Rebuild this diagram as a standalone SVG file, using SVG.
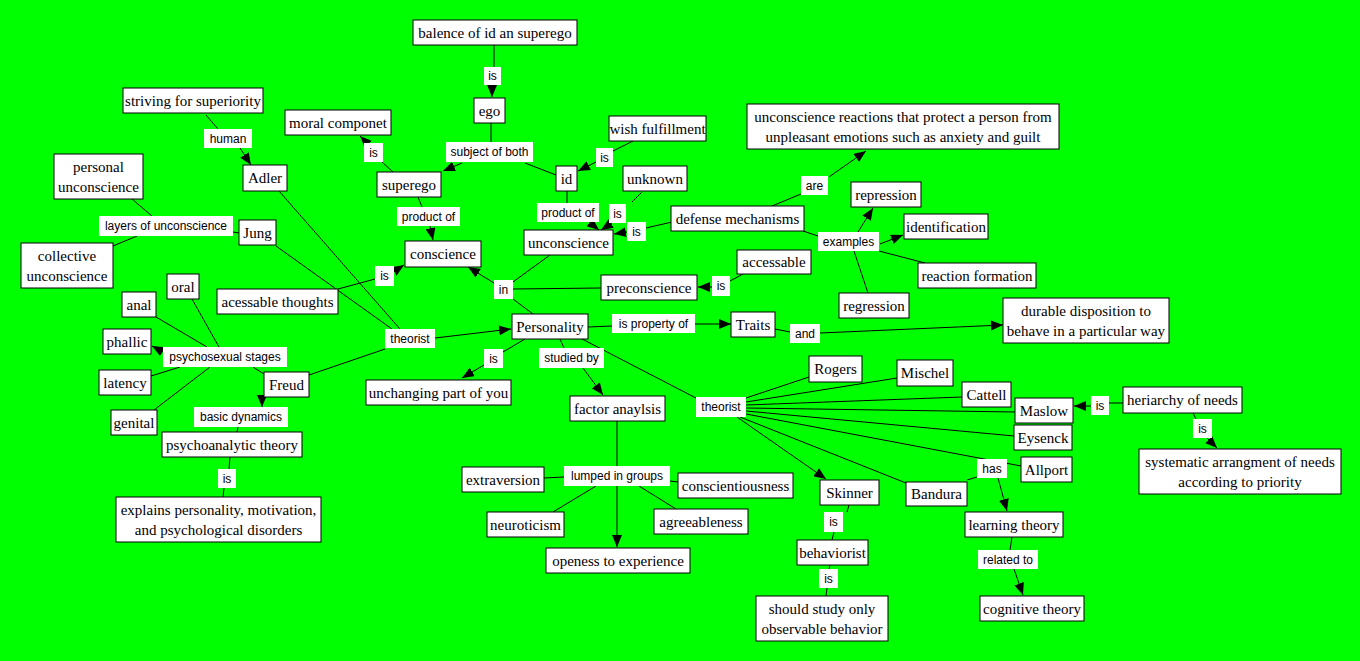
<svg xmlns="http://www.w3.org/2000/svg" width="1360" height="661" viewBox="0 0 1360 661">
<defs>
<marker id="ah" markerUnits="userSpaceOnUse" markerWidth="12" markerHeight="10" refX="12" refY="5" orient="auto"><path d="M0,0 L12,5 L0,10 z" fill="#000"/></marker>
<style>
.n rect{fill:#fff;stroke:#000;stroke-width:1}
.n text{font-family:"Liberation Serif","Times New Roman",serif;font-size:15px;text-anchor:middle;fill:#000}
.l rect{fill:#fff;stroke:none}
.l text{font-family:"Liberation Sans",Arial,sans-serif;font-size:12px;text-anchor:middle;fill:#000}
#connectors line{stroke:#000;stroke-width:1;fill:none}
#connectors line.a{marker-end:url(#ah)}
</style>
</defs>
<rect x="0" y="0" width="1360" height="661" fill="#00ff00"/>
<g id="connectors">
<line x1="494" y1="45" x2="494" y2="67"/>
<line class="a" x1="492" y1="85" x2="492" y2="97"/>
<line x1="491" y1="123" x2="491" y2="142"/>
<line class="a" x1="462" y1="163" x2="443" y2="171"/>
<line x1="525" y1="163" x2="556" y2="175"/>
<line x1="393" y1="172" x2="382" y2="162"/>
<line class="a" x1="368" y1="144" x2="360" y2="136"/>
<line x1="418" y1="197" x2="422" y2="207"/>
<line class="a" x1="430" y1="226" x2="433" y2="240"/>
<line x1="633" y1="141" x2="613" y2="151"/>
<line class="a" x1="596" y1="162" x2="578" y2="171"/>
<line x1="567" y1="191" x2="567" y2="203"/>
<line class="a" x1="588" y1="221" x2="599" y2="230"/>
<line x1="632" y1="202" x2="642" y2="192"/>
<line class="a" x1="612" y1="223" x2="601" y2="230"/>
<line x1="672" y1="222" x2="646" y2="228"/>
<line class="a" x1="627" y1="232" x2="614" y2="234"/>
<line x1="772" y1="206" x2="801" y2="194"/>
<line class="a" x1="829" y1="177" x2="866" y2="151"/>
<line x1="803" y1="231" x2="818" y2="236"/>
<line class="a" x1="858" y1="232" x2="873" y2="208"/>
<line class="a" x1="880" y1="244" x2="903" y2="235"/>
<line x1="879" y1="251" x2="925" y2="263"/>
<line x1="854" y1="251" x2="868" y2="293"/>
<line x1="743" y1="274" x2="730" y2="281"/>
<line class="a" x1="712" y1="287" x2="698" y2="287"/>
<line x1="533" y1="314" x2="513" y2="299"/>
<line class="a" x1="494" y1="283" x2="468" y2="267"/>
<line x1="513" y1="282" x2="550" y2="255"/>
<line x1="513" y1="289" x2="601" y2="288"/>
<line x1="588" y1="327" x2="612" y2="326"/>
<line class="a" x1="695" y1="324" x2="731" y2="324"/>
<line x1="775" y1="329" x2="790" y2="332"/>
<line class="a" x1="820" y1="333" x2="1003" y2="325"/>
<line x1="525" y1="339" x2="503" y2="352"/>
<line class="a" x1="484" y1="365" x2="462" y2="378"/>
<line x1="560" y1="339" x2="564" y2="348"/>
<line class="a" x1="583" y1="368" x2="603" y2="395"/>
<line x1="582" y1="339" x2="696" y2="398"/>
<line x1="746" y1="398" x2="809" y2="377"/>
<line x1="746" y1="402" x2="897" y2="378"/>
<line x1="746" y1="405" x2="962" y2="397"/>
<line x1="746" y1="408" x2="1015" y2="412"/>
<line x1="746" y1="411" x2="1014" y2="436"/>
<line x1="746" y1="414" x2="1021" y2="466"/>
<line x1="740" y1="417" x2="906" y2="483"/>
<line class="a" x1="737" y1="417" x2="826" y2="479"/>
<line x1="967" y1="480" x2="977" y2="477"/>
<line class="a" x1="998" y1="478" x2="1007" y2="511"/>
<line x1="1123" y1="403" x2="1109" y2="403"/>
<line class="a" x1="1091" y1="406" x2="1074" y2="406"/>
<line x1="1193" y1="413" x2="1196" y2="419"/>
<line class="a" x1="1207" y1="438" x2="1217" y2="448"/>
<line x1="849" y1="505" x2="847" y2="512"/>
<line x1="834" y1="532" x2="832" y2="540"/>
<line x1="830" y1="565" x2="829" y2="569"/>
<line x1="827" y1="588" x2="826" y2="596"/>
<line x1="1012" y1="537" x2="1010" y2="550"/>
<line class="a" x1="1014" y1="569" x2="1023" y2="595"/>
<line x1="617" y1="421" x2="617" y2="466"/>
<line class="a" x1="617" y1="486" x2="617" y2="547"/>
<line x1="564" y1="477" x2="544" y2="478"/>
<line x1="596" y1="486" x2="553" y2="512"/>
<line x1="639" y1="486" x2="676" y2="509"/>
<line x1="670" y1="481" x2="678" y2="482"/>
<line class="a" x1="435" y1="338" x2="511" y2="329"/>
<line x1="279" y1="191" x2="400" y2="329"/>
<line x1="276" y1="246" x2="392" y2="329"/>
<line x1="338" y1="289" x2="375" y2="279"/>
<line class="a" x1="393" y1="272" x2="404" y2="265"/>
<line x1="309" y1="375" x2="385" y2="349"/>
<line x1="206" y1="115" x2="218" y2="129"/>
<line class="a" x1="240" y1="148" x2="251" y2="165"/>
<line x1="132" y1="199" x2="152" y2="216"/>
<line x1="137" y1="236" x2="113" y2="246"/>
<line x1="233" y1="232" x2="239" y2="233"/>
<line x1="264" y1="374" x2="253" y2="367"/>
<line class="a" x1="163" y1="352" x2="152" y2="346"/>
<line x1="207" y1="347" x2="156" y2="317"/>
<line x1="219" y1="347" x2="192" y2="299"/>
<line x1="180" y1="367" x2="151" y2="376"/>
<line x1="210" y1="367" x2="154" y2="410"/>
<line class="a" x1="262" y1="397" x2="262" y2="407"/>
<line x1="238" y1="427" x2="237" y2="432"/>
<line x1="230" y1="457" x2="229" y2="469"/>
<line x1="224" y1="488" x2="223" y2="497"/>
</g>
<g id="labels">
<g id="l_is1" class="l"><rect x="484" y="67" width="17" height="18"/><text x="492.5" y="80">is</text></g>
<g id="l_subject" class="l"><rect x="446" y="142" width="87" height="20"/><text x="489.5" y="156">subject of both</text></g>
<g id="l_is_wish" class="l"><rect x="596" y="148" width="17" height="19"/><text x="604.5" y="161.5">is</text></g>
<g id="l_is_moral" class="l"><rect x="364" y="143" width="19" height="19"/><text x="373.5" y="156.5">is</text></g>
<g id="l_product1" class="l"><rect x="397" y="207" width="63" height="19"/><text x="428.5" y="220.5">product of</text></g>
<g id="l_product2" class="l"><rect x="537" y="203" width="62" height="19"/><text x="568" y="216.5">product of</text></g>
<g id="l_is_unknown" class="l"><rect x="609" y="204" width="17" height="19"/><text x="617.5" y="217.5">is</text></g>
<g id="l_is_defense" class="l"><rect x="627" y="222" width="19" height="19"/><text x="636.5" y="235.5">is</text></g>
<g id="l_are" class="l"><rect x="801" y="176" width="27" height="19"/><text x="814.5" y="189.5">are</text></g>
<g id="l_examples" class="l"><rect x="818" y="232" width="61" height="19"/><text x="848.5" y="245.5">examples</text></g>
<g id="l_human" class="l"><rect x="204" y="129" width="48" height="19"/><text x="228" y="142.5">human</text></g>
<g id="l_layers" class="l"><rect x="99" y="216" width="134" height="20"/><text x="166" y="230">layers of unconscience</text></g>
<g id="l_is_acess" class="l"><rect x="375" y="266" width="19" height="20"/><text x="384.5" y="280">is</text></g>
<g id="l_in" class="l"><rect x="494" y="280" width="19" height="19"/><text x="503.5" y="293.5">in</text></g>
<g id="l_is_accessable" class="l"><rect x="712" y="276" width="18" height="20"/><text x="721" y="290">is</text></g>
<g id="l_property" class="l"><rect x="612" y="314" width="83" height="19"/><text x="653.5" y="327.5">is property of</text></g>
<g id="l_and" class="l"><rect x="790" y="324" width="30" height="19"/><text x="805" y="337.5">and</text></g>
<g id="l_theorist1" class="l"><rect x="385" y="329" width="50" height="19"/><text x="410" y="342.5">theorist</text></g>
<g id="l_is_unch" class="l"><rect x="484" y="349" width="19" height="19"/><text x="493.5" y="362.5">is</text></g>
<g id="l_studied" class="l"><rect x="539" y="348" width="65" height="20"/><text x="571.5" y="362">studied by</text></g>
<g id="l_psychosexual" class="l"><rect x="163" y="347" width="124" height="20"/><text x="225" y="361">psychosexual stages</text></g>
<g id="l_basic" class="l"><rect x="194" y="407" width="94" height="20"/><text x="241" y="421">basic dynamics</text></g>
<g id="l_is_psycho" class="l"><rect x="218" y="469" width="18" height="19"/><text x="227" y="482.5">is</text></g>
<g id="l_theorist2" class="l"><rect x="696" y="397" width="50" height="20"/><text x="721" y="411">theorist</text></g>
<g id="l_lumped" class="l"><rect x="564" y="466" width="106" height="20"/><text x="617" y="480">lumped in groups</text></g>
<g id="l_is_maslow" class="l"><rect x="1091" y="396" width="18" height="19"/><text x="1100" y="409.5">is</text></g>
<g id="l_is_system" class="l"><rect x="1193" y="419" width="19" height="19"/><text x="1202.5" y="432.5">is</text></g>
<g id="l_has" class="l"><rect x="977" y="459" width="30" height="19"/><text x="992" y="472.5">has</text></g>
<g id="l_is_skinner" class="l"><rect x="824" y="512" width="19" height="20"/><text x="833.5" y="526">is</text></g>
<g id="l_is_behav" class="l"><rect x="819" y="569" width="19" height="19"/><text x="828.5" y="582.5">is</text></g>
<g id="l_related" class="l"><rect x="978" y="550" width="60" height="19"/><text x="1008" y="563.5">related to</text></g>
</g>
<g id="nodes">
<g id="n_balence" class="n"><rect x="413" y="20" width="164" height="25"/><text x="495" y="37.5">balence of id an superego</text></g>
<g id="n_ego" class="n"><rect x="474" y="98" width="31" height="25"/><text x="489.5" y="115.5">ego</text></g>
<g id="n_id" class="n"><rect x="556" y="166" width="21" height="25"/><text x="566.5" y="183.5">id</text></g>
<g id="n_wish" class="n"><rect x="609" y="116" width="97" height="25"/><text x="657.5" y="133.5">wish fulfillment</text></g>
<g id="n_unknown" class="n"><rect x="623" y="166" width="64" height="25"/><text x="655" y="183.5">unknown</text></g>
<g id="n_superego" class="n"><rect x="377" y="172" width="64" height="25"/><text x="409" y="189.5">superego</text></g>
<g id="n_moral" class="n"><rect x="285" y="110" width="106" height="25"/><text x="338" y="127.5">moral componet</text></g>
<g id="n_defense" class="n"><rect x="671" y="206" width="133" height="25"/><text x="737.5" y="223.5">defense mechanisms</text></g>
<g id="n_unconscience" class="n"><rect x="524" y="230" width="89" height="25"/><text x="568.5" y="247.5">unconscience</text></g>
<g id="n_conscience" class="n"><rect x="405" y="241" width="76" height="26"/><text x="443" y="258.5">conscience</text></g>
<g id="n_preconscience" class="n"><rect x="601" y="275" width="96" height="25"/><text x="649" y="292.5">preconscience</text></g>
<g id="n_accessable" class="n"><rect x="737" y="250" width="74" height="24"/><text x="774" y="267">accessable</text></g>
<g id="n_personality" class="n"><rect x="512" y="314" width="76" height="25"/><text x="550" y="331.5">Personality</text></g>
<g id="n_traits" class="n"><rect x="731" y="312" width="44" height="25"/><text x="753" y="329.5">Traits</text></g>
<g id="n_durable" class="n"><rect x="1003" y="298" width="166" height="45"/><text x="1086" y="316">durable disposition to</text><text x="1086" y="336">behave in a particular way</text></g>
<g id="n_reactions" class="n"><rect x="747" y="104" width="312" height="45"/><text x="903" y="122">unconscience reactions that protect a person from</text><text x="903" y="142">unpleasant emotions such as anxiety and guilt</text></g>
<g id="n_repression" class="n"><rect x="851" y="182" width="70" height="25"/><text x="886" y="199.5">repression</text></g>
<g id="n_identification" class="n"><rect x="904" y="214" width="84" height="25"/><text x="946" y="231.5">identification</text></g>
<g id="n_reaction_formation" class="n"><rect x="918" y="263" width="118" height="25"/><text x="977" y="280.5">reaction formation</text></g>
<g id="n_regression" class="n"><rect x="839" y="293" width="70" height="25"/><text x="874" y="310.5">regression</text></g>
<g id="n_striving" class="n"><rect x="123" y="88" width="140" height="25"/><text x="193" y="105.5">striving for superiority</text></g>
<g id="n_adler" class="n"><rect x="243" y="165" width="44" height="26"/><text x="265" y="183">Adler</text></g>
<g id="n_personal" class="n"><rect x="54" y="154" width="89" height="45"/><text x="98.5" y="172">personal</text><text x="98.5" y="192">unconscience</text></g>
<g id="n_jung" class="n"><rect x="239" y="220" width="37" height="25"/><text x="257.5" y="237.5">Jung</text></g>
<g id="n_collective" class="n"><rect x="21" y="243" width="92" height="45"/><text x="67" y="261">collective</text><text x="67" y="281">unconscience</text></g>
<g id="n_oral" class="n"><rect x="167" y="274" width="32" height="25"/><text x="183" y="291.5">oral</text></g>
<g id="n_acessable" class="n"><rect x="217" y="289" width="121" height="25"/><text x="277.5" y="306.5">acessable thoughts</text></g>
<g id="n_anal" class="n"><rect x="122" y="292" width="34" height="25"/><text x="139" y="309.5">anal</text></g>
<g id="n_phallic" class="n"><rect x="103" y="329" width="48" height="25"/><text x="127" y="346.5">phallic</text></g>
<g id="n_latency" class="n"><rect x="99" y="370" width="52" height="25"/><text x="125" y="387.5">latency</text></g>
<g id="n_freud" class="n"><rect x="264" y="372" width="45" height="25"/><text x="286.5" y="389.5">Freud</text></g>
<g id="n_genital" class="n"><rect x="111" y="410" width="46" height="25"/><text x="134" y="427.5">genital</text></g>
<g id="n_psychoanalytic" class="n"><rect x="162" y="432" width="140" height="25"/><text x="232" y="449.5">psychoanalytic theory</text></g>
<g id="n_explains" class="n"><rect x="116" y="497" width="205" height="45"/><text x="218.5" y="515">explains personality, motivation,</text><text x="218.5" y="535">and psychological disorders</text></g>
<g id="n_unchanging" class="n"><rect x="366" y="380" width="145" height="25"/><text x="438.5" y="397.5">unchanging part of you</text></g>
<g id="n_factor" class="n"><rect x="570" y="396" width="95" height="25"/><text x="617.5" y="413.5">factor anaylsis</text></g>
<g id="n_extraversion" class="n"><rect x="462" y="467" width="82" height="25"/><text x="503" y="484.5">extraversion</text></g>
<g id="n_neuroticism" class="n"><rect x="487" y="512" width="77" height="25"/><text x="525.5" y="529.5">neuroticism</text></g>
<g id="n_openess" class="n"><rect x="546" y="548" width="144" height="25"/><text x="618" y="565.5">openess to experience</text></g>
<g id="n_conscientiousness" class="n"><rect x="678" y="473" width="115" height="25"/><text x="735.5" y="490.5">conscientiousness</text></g>
<g id="n_agreeableness" class="n"><rect x="654" y="509" width="94" height="25"/><text x="701" y="526.5">agreeableness</text></g>
<g id="n_rogers" class="n"><rect x="809" y="356" width="53" height="26"/><text x="835.5" y="374">Rogers</text></g>
<g id="n_mischel" class="n"><rect x="897" y="360" width="56" height="26"/><text x="925" y="378">Mischel</text></g>
<g id="n_cattell" class="n"><rect x="962" y="382" width="49" height="25"/><text x="986.5" y="399.5">Cattell</text></g>
<g id="n_maslow" class="n"><rect x="1015" y="398" width="58" height="25"/><text x="1044" y="415.5">Maslow</text></g>
<g id="n_heriarchy" class="n"><rect x="1123" y="387" width="119" height="26"/><text x="1182.5" y="405">heriarchy of needs</text></g>
<g id="n_systematic" class="n"><rect x="1139" y="449" width="202" height="45"/><text x="1240" y="467">systematic arrangment of needs</text><text x="1240" y="487">according to priority</text></g>
<g id="n_eysenck" class="n"><rect x="1014" y="425" width="58" height="25"/><text x="1043" y="442.5">Eysenck</text></g>
<g id="n_allport" class="n"><rect x="1021" y="457" width="51" height="25"/><text x="1046.5" y="474.5">Allport</text></g>
<g id="n_skinner" class="n"><rect x="820" y="480" width="59" height="25"/><text x="849.5" y="497.5">Skinner</text></g>
<g id="n_bandura" class="n"><rect x="906" y="482" width="61" height="24"/><text x="936.5" y="499">Bandura</text></g>
<g id="n_learning" class="n"><rect x="965" y="512" width="98" height="25"/><text x="1014" y="529.5">learning theory</text></g>
<g id="n_cognitive" class="n"><rect x="980" y="596" width="104" height="25"/><text x="1032" y="613.5">cognitive theory</text></g>
<g id="n_behaviorist" class="n"><rect x="797" y="540" width="71" height="25"/><text x="832.5" y="557.5">behaviorist</text></g>
<g id="n_should" class="n"><rect x="756" y="596" width="132" height="45"/><text x="822" y="614">should study only</text><text x="822" y="634">observable behavior</text></g>
</g>
</svg>
